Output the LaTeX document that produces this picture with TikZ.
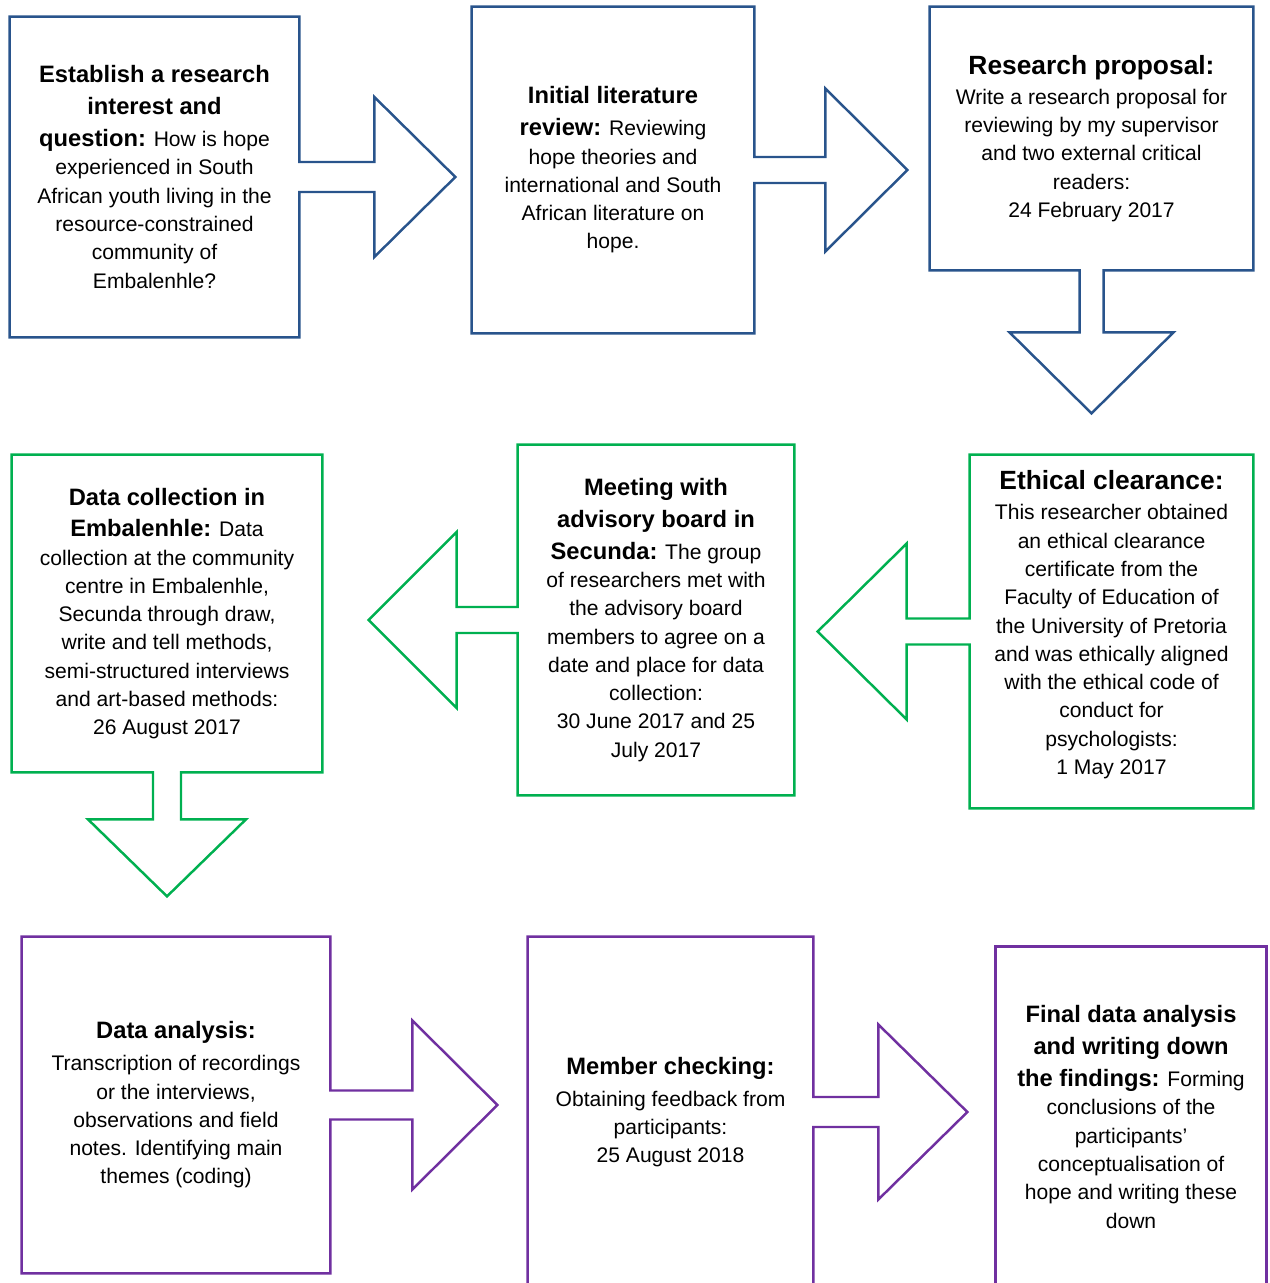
\documentclass[tikz,border=0pt]{standalone}
\usepackage{fontspec}
\setmainfont{Liberation Sans}
\usetikzlibrary{calc}
\definecolor{stageblue}{RGB}{41,84,140}
\definecolor{stagegreen}{RGB}{0,176,80}
\definecolor{stagepurple}{RGB}{112,48,160}
\newcommand{\hd}[1]{{\fontsize{13.5}{18}\selectfont\bfseries #1}}
\newcommand{\hdl}[1]{{\fontsize{15}{19}\selectfont\bfseries #1}}

\begin{document}
\begin{tikzpicture}[x=0.02cm,y=-0.02cm,
  stage/.style 2 args={minimum width=#1*0.02cm,minimum height=#2*0.02cm,
    inner sep=0pt,align=center,font=\fontsize{12}{16.1}\selectfont},
  blueline/.style={draw=stageblue,line width=1.4pt,line join=miter},
  greenline/.style={draw=stagegreen,line width=1.4pt,line join=miter},
  purpleline/.style={draw=stagepurple,line width=1.4pt,line join=miter}]

  % box with arrow: style, node, half stem, stem, half head, head
  \def\stageright#1#2#3#4#5#6{%
    \draw[#1] ($(#2.east)+(0,-#3)$) -- ++(#4,0) -- ++(0,{-(#5-#3)}) -- ++(#6,#5)
      -- ++(-#6,#5) -- ++(0,{-(#5-#3)}) -- ++(-#4,0) -- (#2.south east)
      -- (#2.south west) -- (#2.north west) -- (#2.north east) -- cycle;}
  \def\stageleft#1#2#3#4#5#6{%
    \draw[#1] ($(#2.west)+(0,#3)$) -- ++(-#4,0) -- ++(0,{#5-#3}) -- ++(-#6,-#5)
      -- ++(#6,-#5) -- ++(0,{#5-#3}) -- ++(#4,0) -- (#2.north west)
      -- (#2.north east) -- (#2.south east) -- (#2.south west) -- cycle;}
  \def\stagedown#1#2#3#4#5#6{%
    \draw[#1] ($(#2.south)+(-#3,0)$) -- ++(0,#4) -- ++({-(#5-#3)},0) -- ++(#5,#6)
      -- ++(#5,-#6) -- ++({-(#5-#3)},0) -- ++(0,-#4) -- (#2.south east)
      -- (#2.north east) -- (#2.north west) -- (#2.south west) -- cycle;}

  \useasboundingbox (0,0) rectangle (1269,1283);
  \clip (0,0) rectangle (1269,1283);

  % row 1
  \node[stage={289}{320}] (question) at (154.5,177) {\hd{Establish a research}\\[2pt]
    \hd{interest and}\\[2pt] \hd{question:} How is hope\\ experienced in South\\
    African youth living in the\\ resource-constrained\\ community of\\ Embalenhle?};
  \node[stage={282}{326}] (litreview) at (613,170) {\hd{Initial literature}\\[2pt]
    \hd{review:} Reviewing\\ hope theories and\\ international and South\\
    African literature on\\ hope.};
  \node[stage={323}{263}] (proposal) at (1091.5,138.5) {\hdl{Research proposal:}\\[1pt]
    Write a research proposal for\\ reviewing by my supervisor\\
    and two external critical\\ readers:\\ 24 February 2017};

  \stageright{blueline}{question}{15}{75}{80}{81}
  \stageright{blueline}{litreview}{13}{71}{81.5}{82}
  \stagedown{blueline}{proposal}{12}{62}{82}{81}

  % row 2
  \node[stage={283}{353}] (ethics) at (1111.5,631.5) {\hdl{Ethical clearance:}\\[1pt]
    This researcher obtained\\ an ethical clearance\\ certificate from the\\
    Faculty of Education of\\ the University of Pretoria\\ and was ethically aligned\\
    with the ethical code of\\ conduct for\\ psychologists:\\ 1 May 2017\\[-6pt]\mbox{}};
  \node[stage={276}{350}] (meeting) at (656,620) {\hd{Meeting with}\\[2pt]
    \hd{advisory board in}\\[2pt] \hd{Secunda:} The group\\ of researchers met with\\
    the advisory board\\ members to agree on a\\ date and place for data\\
    collection:\\ 30 June 2017 and 25\\ July 2017};
  \node[stage={310}{317}] (collection) at (167,613.5) {\hd{Data collection in}\\[2pt]
    \hd{Embalenhle:} Data\\ collection at the community\\ centre in Embalenhle,\\
    Secunda through draw,\\ write and tell methods,\\ semi-structured interviews\\
    and art-based methods:\\ 26 August 2017};

  \stageleft{greenline}{ethics}{13}{63}{88}{89}
  \stageleft{greenline}{meeting}{13}{61}{88}{88}
  \stagedown{greenline}{collection}{14}{47}{79}{77}

  % row 3
  \node[stage={308}{336}] (analysis) at (176,1105) {\hd{Data analysis:}\\[2pt]
    Transcription of recordings\\ or the interviews,\\ observations and field\\
    notes. Identifying main\\ themes (coding)};
  \node[stage={285}{350}] (checking) at (670.5,1112) {\hd{Member checking:}\\[2pt]
    Obtaining feedback from\\ participants:\\ 25 August 2018};
  \node[stage={270}{340}] (findings) at (1131,1117) {\hd{Final data analysis}\\[2pt]
    \hd{and writing down}\\[2pt] \hd{the findings:} Forming\\ conclusions of the\\
    participants’\\ conceptualisation of\\ hope and writing these\\ down};

  \stageright{purpleline}{analysis}{14.5}{82}{84.5}{85}
  \stageright{purpleline}{checking}{15}{65}{87.5}{89}
  \draw[purpleline] (findings.north west) rectangle (findings.south east);

\end{tikzpicture}
\end{document}
